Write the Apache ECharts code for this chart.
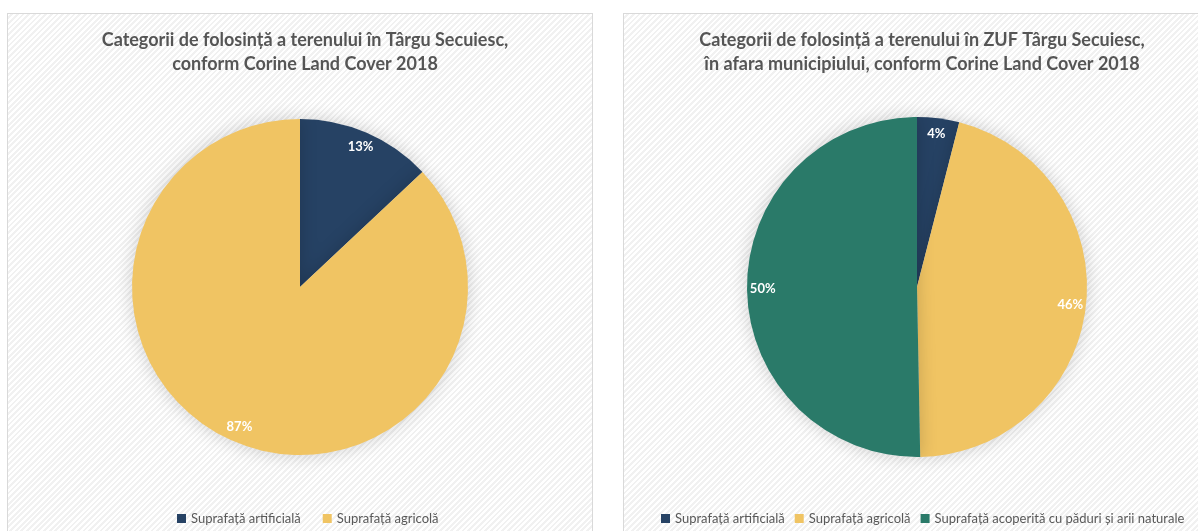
<!DOCTYPE html>
<html>
<head>
<meta charset="utf-8">
<script src="https://cdn.jsdelivr.net/npm/echarts@6/dist/echarts.min.js"></script>
<style>
  html, body { margin: 0; padding: 0; background: #fff; }
  .panel {
    position: absolute;
    border: 1px solid #d9d9d9;
    background: repeating-linear-gradient(135deg, #ffffff 0px, #ffffff 2px, #f1f1f1 2px, #f1f1f1 4px);
  }
  #main { position: absolute; left: 0; top: 0; width: 1198px; height: 531px; }
</style>
</head>
<body>
<div class="panel" style="left:7px;top:13px;width:584px;height:530px;"></div>
<div class="panel" style="left:623px;top:13px;width:590px;height:530px;"></div>
<div id="main"></div>
<script>
// date pentru cele doua diagrame
var titluOras = 'Categorii de folosință a terenului în Târgu Secuiesc,\nconform Corine Land Cover 2018';
var titluZuf = 'Categorii de folosință a terenului în ZUF Târgu Secuiesc,\nîn afara municipiului, conform Corine Land Cover 2018';

var categoriiOras = ['Suprafață artificială', 'Suprafață agricolă'];
var valoriOras = [13, 87];

var categoriiZuf = ['Suprafață artificială', 'Suprafață agricolă', 'Suprafață acoperită cu păduri și arii naturale'];
var valoriZuf = [4.0, 45.7, 50.3];

var culori = ['#264264', '#f0c463', '#2a7a69'];

var chart = echarts.init(document.getElementById('main'));

function buildData(names, values) {
    return names.map(function (n, i) {
        return { name: n, value: values[i], itemStyle: { color: culori[i] } };
    });
}

// felie vizibila + inel transparent doar pentru etichete (pozitionate spre margine)
function pieSeries(names, values, center, r) {
    return [{
        type: 'pie',
        center: center,
        radius: [0, r],
        startAngle: 90,
        silent: true,
        label: { show: false },
        labelLine: { show: false },
        itemStyle: { shadowBlur: 18, shadowColor: 'rgba(0,0,0,0.18)' },
        data: buildData(names, values)
    }, {
        type: 'pie',
        center: center,
        radius: [r * 0.78, r],
        startAngle: 90,
        silent: true,
        itemStyle: { color: 'transparent' },
        label: {
            show: true,
            position: 'inside',
            formatter: function (p) { return Math.round(p.value) + '%'; },
            color: '#ffffff',
            fontFamily: 'Lato',
            fontWeight: 'bold',
            fontSize: 13
        },
        labelLine: { show: false },
        data: names.map(function (n, i) {
            return { name: n, value: values[i], itemStyle: { color: 'transparent' } };
        })
    }];
}

var titleStyle = { fontFamily: 'Lato', fontWeight: 'bold', fontSize: 18, color: '#555555', lineHeight: 24 };
var legendText = { fontFamily: 'Lato', fontSize: 13, color: '#595959' };

chart.setOption({
    backgroundColor: 'transparent',
    title: [{
        text: titluOras,
        left: 300,
        top: 23,
        textAlign: 'center',
        textStyle: titleStyle
    }, {
        text: titluZuf,
        left: 917,
        top: 23,
        textAlign: 'center',
        textStyle: titleStyle
    }],
    legend: [{
        data: categoriiOras.map(function (n, i) { return { name: n, itemStyle: { color: culori[i] } }; }),
        left: 172,
        top: 507,
        icon: 'rect',
        itemWidth: 9,
        itemHeight: 9,
        itemGap: 22,
        textStyle: legendText
    }, {
        data: categoriiZuf.map(function (n, i) { return { name: n, itemStyle: { color: culori[i] } }; }),
        left: 656,
        top: 507,
        icon: 'rect',
        itemWidth: 9,
        itemHeight: 9,
        itemGap: 10,
        textStyle: legendText
    }],
    series: pieSeries(categoriiOras, valoriOras, [300, 287], 168)
        .concat(pieSeries(categoriiZuf, valoriZuf, [917, 287], 170))
});
</script>
</body>
</html>
